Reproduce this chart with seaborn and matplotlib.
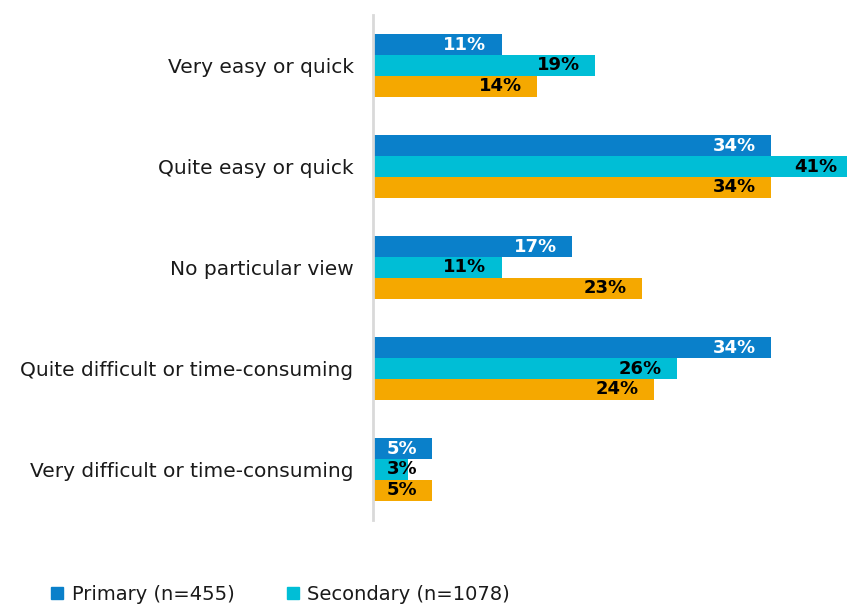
import matplotlib
matplotlib.use("Agg")
import matplotlib.pyplot as plt
from matplotlib.lines import Line2D
import seaborn as sns
import pandas as pd

categories = [
    "Very easy or quick",
    "Quite easy or quick",
    "No particular view",
    "Quite difficult or time-consuming",
    "Very difficult or time-consuming",
]
series = ["Primary (n=455)", "Secondary (n=1078)", "Other"]
primary = [11, 34, 17, 34, 5]
secondary = [19, 41, 11, 26, 3]
other = [14, 34, 23, 24, 5]

colors = ["#0A80CA", "#00BED6", "#F5A800"]
label_colors = ["white", "black", "black"]

rows = []
for name, vals in zip(series, [primary, secondary, other]):
    for cat, v in zip(categories, vals):
        rows.append({"category": cat, "series": name, "value": v})
df = pd.DataFrame(rows)

sns.set_style("white")
plt.rcParams["font.family"] = ["DejaVu Sans"]

fig = plt.figure(figsize=(8.47, 6.05), dpi=100)
ax = fig.add_axes([373 / 847, 1 - 520 / 605, 1 - 373 / 847, (520 - 15) / 605])

sns.barplot(
    data=df, y="category", x="value", hue="series", order=categories,
    hue_order=series, palette=colors, orient="h", width=0.62,
    saturation=1, legend=False, ax=ax, errorbar=None, linewidth=0,
)

xmax = 40.5
ax.set_xlim(0, xmax)
ax.set_xlabel("")
ax.set_ylabel("")
ax.set_xticks([])
for s in ["top", "right", "bottom"]:
    ax.spines[s].set_visible(False)
ax.spines["left"].set_color("#D9D9D9")
ax.spines["left"].set_linewidth(2)
ax.tick_params(axis="y", length=0, pad=14, labelsize=14.5, labelcolor="#1a1a1a")

# value labels just inside the end of each bar
for container, tcol in zip(ax.containers, label_colors):
    for patch in container:
        w = patch.get_width()
        x = min(max(w - 1.3, 3.8), xmax - 0.1)
        y = patch.get_y() + patch.get_height() / 2
        ax.text(x, y, f"{w:.0f}%", ha="right", va="center", color=tcol,
                fontsize=13, fontweight="bold", clip_on=False)

handles = [Line2D([], [], marker="s", linestyle="none", markersize=8,
                  color=c) for c in colors[:2]]
fig.legend(handles, series[:2], loc="center left",
           bbox_to_anchor=(30 / 847, 1 - 594 / 605), ncol=2, frameon=False,
           fontsize=14, handlelength=1.0, handletextpad=0.25,
           columnspacing=2.5, labelcolor="#1a1a1a")

fig.savefig("out.png", dpi=100)
